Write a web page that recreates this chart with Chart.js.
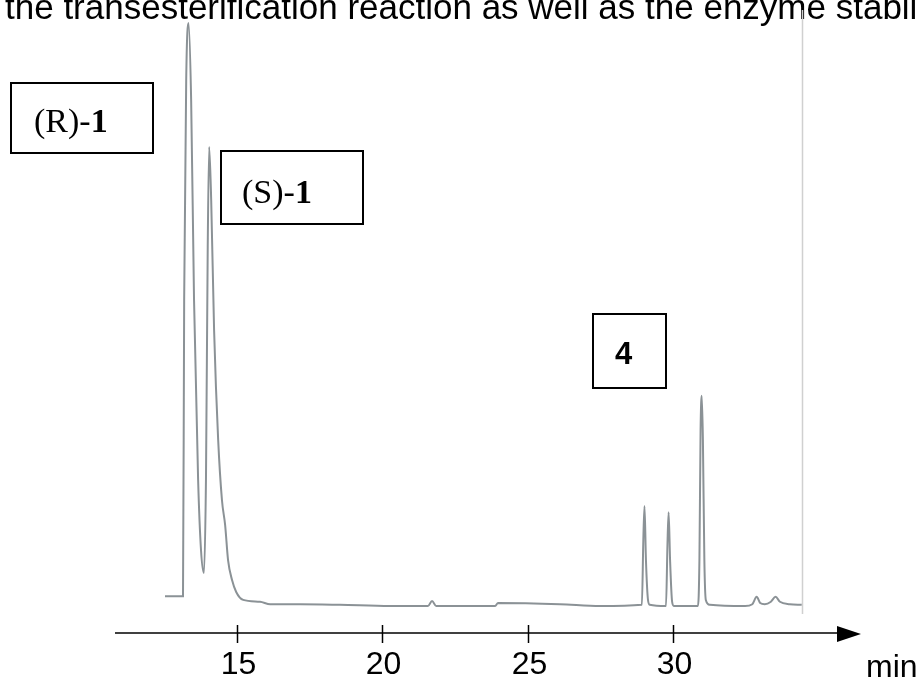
<!DOCTYPE html>
<html lang="en">
<head>
    <meta charset="UTF-8">
    <title>Chromatogram</title>
    <script src="https://cdn.jsdelivr.net/npm/chart.js@4.4.0/dist/chart.umd.min.js"></script>
    <style>
        html, body { margin: 0; padding: 0; background: #fff; }
        #wrap { position: relative; width: 917px; height: 678px; overflow: hidden; }
    </style>
</head>
<body>
<div id="wrap">
    <canvas id="chrom" width="917" height="678"></canvas>
</div>
<script>
    // retention time (min) and detector signal (arbitrary units)
    const times = [
        12.52, 13.11, 13.14, 13.18, 13.25, 13.33, 13.42, 13.52, 13.66, 13.76,
        13.86, 13.93, 13.99, 14.04, 14.11, 14.21, 14.35, 14.48, 14.59, 14.69,
        14.83, 14.97, 15.21, 15.79, 16.14, 17.17, 18.54, 20.26, 21.57, 21.71,
        21.85, 23.88, 23.98, 26.11, 27.49, 28.93, 28.98, 29.02, 29.07, 29.14,
        29.20, 29.76, 29.81, 29.85, 29.90, 29.97, 30.03, 30.86, 30.91, 30.95,
        30.99, 31.03, 31.08, 31.13, 31.27, 32.48, 32.73, 32.88, 33.00, 33.16,
        33.37, 33.53, 33.68, 34.02, 34.43
    ];
    const signal = [
        6.0, 6.0, 6.0, 54.3, 90.2, 99.5, 87.0, 54.3, 25.0, 13.5,
        9.8, 25.0, 62.5, 79.3, 70.6, 49.4, 31.5, 21.7, 17.6, 11.9,
        8.6, 6.7, 5.4, 5.1, 4.7, 4.7, 4.6, 4.4, 4.4, 5.2,
        4.4, 4.4, 4.9, 4.7, 4.4, 4.6, 15.2, 20.7, 11.9, 5.4,
        4.6, 4.4, 14.4, 19.7, 11.9, 5.1, 4.4, 4.4, 11.9, 33.1,
        38.7, 31.5, 11.9, 5.4, 4.6, 4.4, 4.7, 5.9, 4.9, 4.7,
        5.1, 5.9, 5.1, 4.7, 4.6
    ];
    const tickValues = [15, 20, 25, 30];
    const axisUnit = 'min';
    const traceEnd = 34.45;
    const headline = 'the transesterification reaction as well as the enzyme stabili';

    // peak label boxes
    const peakLabels = [
        { plain: '(R)-', bold: '1', box: [11, 83, 142, 70], textX: 34, textY: 132 },
        { plain: '(S)-', bold: '1', box: [221, 151, 142, 73], textX: 242, textY: 203 },
        { plain: '', bold: '4', box: [593, 314, 73, 74], textX: 615, textY: 364, sans: true }
    ];

    const axisPlugin = {
        id: 'axisPlugin',
        beforeDraw(chart) {
            const ctx = chart.ctx;
            ctx.save();
            ctx.fillStyle = '#fff';
            ctx.fillRect(0, 0, chart.width, chart.height);
            // cut-off line of text above the figure
            ctx.fillStyle = '#000';
            ctx.font = '35px "Liberation Sans", Arial, sans-serif';
            ctx.textBaseline = 'alphabetic';
            ctx.fillText(headline, 5, 19);
            // right edge of the original plot frame
            const xs = chart.scales.x;
            const edge = Math.round(xs.getPixelForValue(traceEnd)) + 0.5;
            ctx.strokeStyle = '#d0d0d0';
            ctx.lineWidth = 1.5;
            ctx.beginPath();
            ctx.moveTo(edge, 10);
            ctx.lineTo(edge, 614);
            ctx.stroke();
            ctx.restore();
        },
        afterDraw(chart) {
            const ctx = chart.ctx;
            const area = chart.chartArea;
            const xs = chart.scales.x;
            const y = area.bottom;
            ctx.save();
            ctx.strokeStyle = '#000';
            ctx.fillStyle = '#000';
            ctx.lineWidth = 1.5;
            ctx.beginPath();
            ctx.moveTo(area.left, y);
            ctx.lineTo(area.right - 22, y);
            ctx.stroke();
            // arrow head
            ctx.beginPath();
            ctx.moveTo(area.right, y + 1);
            ctx.lineTo(area.right - 24, y - 7);
            ctx.lineTo(area.right - 24, y + 9);
            ctx.closePath();
            ctx.fill();
            // ticks and labels
            ctx.font = '32px "Liberation Sans", Arial, sans-serif';
            ctx.textAlign = 'center';
            ctx.textBaseline = 'alphabetic';
            tickValues.forEach(v => {
                const px = Math.round(xs.getPixelForValue(v)) + 0.5;
                ctx.beginPath();
                ctx.moveTo(px, y - 8);
                ctx.lineTo(px, y + 10);
                ctx.stroke();
                ctx.fillText(String(v), px + 1, 674);
            });
            ctx.textAlign = 'left';
            ctx.fillText(axisUnit, 866, 677);

            // peak label boxes
            peakLabels.forEach(l => {
                ctx.lineWidth = 2;
                ctx.strokeRect(l.box[0], l.box[1], l.box[2], l.box[3]);
                if (l.sans) {
                    ctx.font = 'bold 31px "Liberation Sans", Arial, sans-serif';
                    ctx.fillText(l.bold, l.textX, l.textY);
                } else {
                    ctx.font = '34px "Liberation Serif", "Times New Roman", serif';
                    ctx.fillText(l.plain, l.textX, l.textY);
                    const w = ctx.measureText(l.plain).width;
                    ctx.font = 'bold 34px "Liberation Serif", "Times New Roman", serif';
                    ctx.fillText(l.bold, l.textX + w, l.textY);
                }
            });
            ctx.restore();
        }
    };

    new Chart(document.getElementById('chrom'), {
        type: 'line',
        data: {
            datasets: [{
                data: times.map((t, i) => ({ x: t, y: signal[i] })),
                borderColor: '#8b9296',
                borderWidth: 2,
                pointRadius: 0,
                cubicInterpolationMode: 'monotone',
                fill: false,
                clip: false
            }]
        },
        options: {
            responsive: false,
            animation: false,
            devicePixelRatio: 1,
            layout: { padding: { left: 115, right: 56, top: 20, bottom: 45 } },
            plugins: { legend: { display: false }, tooltip: { enabled: false } },
            scales: {
                x: { type: 'linear', min: 10.8, max: 36.47, display: false },
                y: { min: 0, max: 100, display: false }
            }
        },
        plugins: [axisPlugin]
    });
</script>
</body>
</html>
